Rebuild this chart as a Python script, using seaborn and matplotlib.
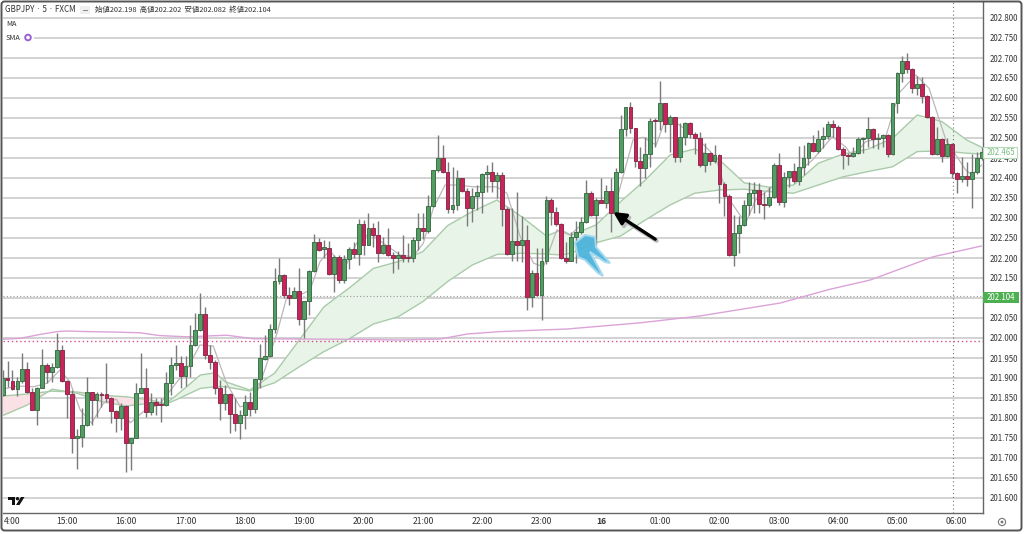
import numpy as np
import pandas as pd
import seaborn as sns
import matplotlib
matplotlib.use('Agg')
import matplotlib.pyplot as plt
from matplotlib.patches import Circle, FancyBboxPatch, Polygon, Rectangle
from matplotlib.transforms import Affine2D

OPENS = [
    201.858, 201.899, 201.893, 201.872, 201.893, 201.923, 201.865, 201.82, 201.876, 201.932,
    201.914, 201.928, 201.969, 201.892, 201.859, 201.749, 201.753, 201.782, 201.866, 201.845,
    201.859, 201.859, 201.85, 201.818, 201.799, 201.831, 201.737, 201.749, 201.863, 201.874,
    201.816, 201.841, 201.833, 201.832, 201.887, 201.932, 201.938, 201.905, 201.93, 201.982,
    202.02, 202.059, 201.958, 201.941, 201.876, 201.837, 201.86, 201.81, 201.788, 201.807,
    201.84, 201.823, 201.897, 201.948, 201.955, 202.023, 202.142, 202.158, 202.108, 202.101,
    202.118, 202.048, 202.092, 202.167, 202.24, 202.222, 202.226, 202.16, 202.202, 202.145,
    202.197, 202.222, 202.21, 202.285, 202.233, 202.274, 202.258, 202.213, 202.232, 202.207,
    202.2, 202.208, 202.201, 202.2, 202.245, 202.274, 202.268, 202.33, 202.42, 202.449,
    202.415, 202.323, 202.332, 202.399, 202.368, 202.325, 202.356, 202.365, 202.409, 202.416,
    202.393, 202.408, 202.323, 202.209, 202.242, 202.233, 202.245, 202.103, 202.162, 202.108,
    202.193, 202.345, 202.315, 202.285, 202.2, 202.193, 202.253, 202.264, 202.29, 202.362,
    202.308, 202.346, 202.338, 202.367, 202.313, 202.414, 202.522, 202.578, 202.524, 202.443,
    202.426, 202.46, 202.543, 202.542, 202.587, 202.535, 202.552, 202.452, 202.502, 202.538,
    202.51, 202.5, 202.432, 202.462, 202.443, 202.457, 202.385, 202.356, 202.207, 202.262,
    202.283, 202.332, 202.362, 202.37, 202.336, 202.333, 202.352, 202.432, 202.341, 202.403,
    202.417, 202.393, 202.428, 202.449, 202.487, 202.467, 202.497, 202.505, 202.535, 202.527,
    202.473, 202.457, 202.455, 202.462, 202.497, 202.499, 202.522, 202.497, 202.501, 202.507,
    202.46, 202.587, 202.662, 202.693, 202.672, 202.624, 202.635, 202.606, 202.553, 202.46,
    202.497, 202.455, 202.486, 202.413, 202.397, 202.405, 202.397, 202.414, 202.449,
]
CLOSES = [
    201.899, 201.894, 201.872, 201.893, 201.923, 201.865, 201.82, 201.876, 201.932, 201.914,
    201.928, 201.969, 201.892, 201.859, 201.749, 201.754, 201.782, 201.866, 201.845, 201.859,
    201.858, 201.85, 201.818, 201.799, 201.831, 201.737, 201.749, 201.863, 201.874, 201.816,
    201.841, 201.833, 201.832, 201.887, 201.932, 201.938, 201.905, 201.93, 201.982, 202.02,
    202.059, 201.958, 201.941, 201.876, 201.837, 201.86, 201.81, 201.788, 201.807, 201.84,
    201.823, 201.897, 201.949, 201.955, 202.023, 202.142, 202.158, 202.108, 202.101, 202.118,
    202.048, 202.092, 202.167, 202.24, 202.22, 202.227, 202.16, 202.202, 202.145, 202.197,
    202.222, 202.21, 202.285, 202.233, 202.274, 202.258, 202.213, 202.232, 202.207, 202.2,
    202.208, 202.201, 202.2, 202.245, 202.274, 202.268, 202.33, 202.42, 202.449, 202.415,
    202.323, 202.332, 202.399, 202.368, 202.325, 202.356, 202.365, 202.409, 202.416, 202.393,
    202.408, 202.323, 202.209, 202.242, 202.233, 202.245, 202.103, 202.162, 202.108, 202.193,
    202.345, 202.315, 202.285, 202.2, 202.193, 202.253, 202.264, 202.29, 202.362, 202.308,
    202.346, 202.338, 202.367, 202.313, 202.414, 202.522, 202.578, 202.524, 202.443, 202.426,
    202.46, 202.543, 202.542, 202.587, 202.535, 202.552, 202.452, 202.502, 202.538, 202.51,
    202.5, 202.432, 202.462, 202.443, 202.457, 202.385, 202.356, 202.207, 202.262, 202.283,
    202.332, 202.362, 202.37, 202.336, 202.333, 202.352, 202.432, 202.341, 202.403, 202.417,
    202.393, 202.428, 202.449, 202.487, 202.467, 202.497, 202.505, 202.535, 202.527, 202.473,
    202.457, 202.456, 202.462, 202.497, 202.499, 202.522, 202.497, 202.501, 202.507, 202.46,
    202.587, 202.662, 202.693, 202.672, 202.624, 202.635, 202.606, 202.553, 202.46, 202.497,
    202.455, 202.486, 202.413, 202.397, 202.405, 202.397, 202.414, 202.449, 202.465,
]
HIGHS = [
    201.92, 201.943, 201.92, 201.903, 201.962, 201.94, 201.874, 201.878, 201.972, 201.937,
    201.937, 202.012, 201.982, 201.895, 201.87, 201.772, 201.824, 201.903, 201.866, 201.866,
    201.866, 201.938, 201.853, 201.82, 201.837, 201.832, 201.749, 201.888, 201.963, 201.924,
    201.863, 201.849, 201.849, 201.916, 201.952, 201.982, 201.955, 201.955, 202.032, 202.063,
    202.113, 202.077, 201.982, 201.945, 201.895, 201.882, 201.862, 201.85, 201.82, 201.858,
    201.866, 201.897, 201.985, 202.008, 202.034, 202.175, 202.2, 202.16, 202.128, 202.128,
    202.175, 202.092, 202.17, 202.26, 202.249, 202.245, 202.243, 202.208, 202.208, 202.208,
    202.228, 202.241, 202.297, 202.295, 202.312, 202.287, 202.293, 202.253, 202.274, 202.216,
    202.218, 202.258, 202.238, 202.253, 202.313, 202.313, 202.358, 202.42, 202.508, 202.483,
    202.441, 202.428, 202.42, 202.4, 202.374, 202.374, 202.383, 202.413, 202.433, 202.441,
    202.416, 202.416, 202.328, 202.324, 202.366, 202.305, 202.283, 202.17, 202.224, 202.224,
    202.355, 202.349, 202.328, 202.287, 202.24, 202.266, 202.293, 202.303, 202.395, 202.368,
    202.349, 202.4, 202.383, 202.4, 202.424, 202.558, 202.578, 202.591, 202.524, 202.478,
    202.502, 202.549, 202.55, 202.643, 202.587, 202.557, 202.553, 202.537, 202.541, 202.541,
    202.516, 202.516, 202.488, 202.466, 202.482, 202.46, 202.39, 202.36, 202.307, 202.305,
    202.345, 202.391, 202.391, 202.387, 202.366, 202.377, 202.438, 202.462, 202.416, 202.418,
    202.437, 202.48, 202.482, 202.491, 202.507, 202.52, 202.528, 202.543, 202.545, 202.532,
    202.478, 202.462, 202.477, 202.503, 202.502, 202.552, 202.524, 202.512, 202.51, 202.51,
    202.587, 202.666, 202.705, 202.712, 202.674, 202.655, 202.652, 202.607, 202.555, 202.527,
    202.499, 202.499, 202.487, 202.416, 202.453, 202.44, 202.46, 202.466, 202.477,
]
LOWS = [
    201.854, 201.878, 201.87, 201.855, 201.887, 201.862, 201.82, 201.782, 201.874, 201.887,
    201.891, 201.924, 201.891, 201.799, 201.713, 201.672, 201.728, 201.78, 201.783, 201.803,
    201.828, 201.841, 201.788, 201.766, 201.77, 201.666, 201.67, 201.749, 201.862, 201.803,
    201.808, 201.808, 201.791, 201.83, 201.857, 201.92, 201.874, 201.88, 201.903, 201.98,
    202.018, 201.947, 201.922, 201.86, 201.795, 201.82, 201.763, 201.768, 201.748, 201.772,
    201.806, 201.812, 201.874, 201.945, 201.952, 202.012, 202.135, 202.1, 202.082, 202.099,
    202.032, 201.999, 202.058, 202.165, 202.218, 202.2, 202.158, 202.116, 202.138, 202.138,
    202.172, 202.2, 202.183, 202.208, 202.232, 202.228, 202.191, 202.211, 202.205, 202.163,
    202.172, 202.191, 202.191, 202.191, 202.22, 202.247, 202.262, 202.328, 202.416, 202.413,
    202.312, 202.312, 202.32, 202.366, 202.28, 202.291, 202.32, 202.312, 202.366, 202.366,
    202.349, 202.28, 202.207, 202.193, 202.193, 202.191, 202.07, 202.078, 202.106, 202.045,
    202.185, 202.283, 202.28, 202.198, 202.188, 202.192, 202.187, 202.26, 202.287, 202.305,
    202.233, 202.337, 202.324, 202.266, 202.31, 202.413, 202.505, 202.512, 202.427, 202.38,
    202.399, 202.427, 202.478, 202.52, 202.516, 202.466, 202.441, 202.441, 202.482, 202.499,
    202.46, 202.428, 202.416, 202.432, 202.438, 202.338, 202.306, 202.206, 202.18, 202.212,
    202.281, 202.308, 202.312, 202.312, 202.297, 202.327, 202.35, 202.333, 202.327, 202.378,
    202.387, 202.382, 202.408, 202.433, 202.466, 202.462, 202.474, 202.497, 202.502, 202.47,
    202.422, 202.433, 202.452, 202.46, 202.462, 202.478, 202.474, 202.473, 202.478, 202.453,
    202.458, 202.562, 202.639, 202.662, 202.612, 202.608, 202.588, 202.549, 202.458, 202.458,
    202.441, 202.453, 202.399, 202.363, 202.391, 202.38, 202.326, 202.411, 202.445,
]

# The two moving averages that bound the shaded cloud
BAND_IDX = [0, 5, 10, 15, 20, 25, 30, 33, 35, 40, 43, 45, 50, 55, 60, 65, 70, 75, 80, 85,
            90, 95, 100, 105, 110, 113, 115, 120, 125, 130, 135, 140, 145, 150, 155, 160,
            165, 170, 175, 180, 185, 190, 195, 198]
BAND_FAST = [201.806, 201.8325, 201.872, 201.862, 201.841, 201.83, 201.837, 201.8367, 201.855,
             201.9075, 201.913, 201.891, 201.87, 201.912, 201.995, 202.078, 202.124, 202.174,
             202.191, 202.216, 202.281, 202.316, 202.345, 202.303, 202.255, 202.27, 202.257,
             202.2825, 202.341, 202.395, 202.4575, 202.4725, 202.445, 202.388, 202.377, 202.3825,
             202.437, 202.46, 202.472, 202.499, 202.5575, 202.541, 202.495, 202.477]
BAND_SLOW = [201.855, 201.86, 201.867, 201.865, 201.857, 201.853, 201.845, 201.835, 201.845,
             201.874, 201.878, 201.878, 201.8675, 201.888, 201.928, 201.966, 201.9975, 202.035,
             202.053, 202.091, 202.141, 202.1825, 202.209, 202.212, 202.21, 202.2075, 202.212,
             202.238, 202.255, 202.295, 202.3325, 202.362, 202.37, 202.372, 202.366, 202.362,
             202.3825, 202.403, 202.416, 202.428, 202.466, 202.468, 202.462, 202.46]

# Short grey MA
SHORT_IDX = [0, 3, 6.2, 9, 11.6, 13.6, 15.7, 18, 20.4, 23, 25.8, 28.5, 31.8, 34.5, 37.2, 39.9,
             42.6, 45.3, 48, 50.7, 52.8, 55.5, 57.5, 60.2, 62.2, 64.2, 66.2, 69, 71.6, 74.3,
             77, 80.4, 83, 85.1, 87.1, 89.5, 91.9, 95.2, 99.9, 102, 104.7, 107.4, 109.4, 112.1,
             114.8, 118.1, 120.8, 124.2, 127.5, 129.5, 132.2, 134.2, 136.9, 140.2, 144.2, 146.6,
             150.3, 152.3, 155.7, 159.8, 163.8, 167.8, 170.5, 171.9, 174.6, 178.6, 181.3, 184.7,
             187.4, 190.8, 194.8, 196.1, 198]
SHORT_MA = [201.872, 201.88, 201.878, 201.887, 201.92, 201.891, 201.82, 201.787, 201.837, 201.847,
            201.788, 201.816, 201.835, 201.878, 201.92, 201.9825, 201.98, 201.887, 201.828, 201.837,
            201.912, 202.012, 202.103, 202.108, 202.12, 202.191, 202.22, 202.17, 202.237, 202.262,
            202.237, 202.2075, 202.203, 202.237, 202.324, 202.3825, 202.3825, 202.378, 202.378, 202.362,
            202.253, 202.187, 202.178, 202.27, 202.2575, 202.295, 202.337, 202.345, 202.495, 202.502,
            202.4825, 202.553, 202.5325, 202.503, 202.453, 202.353, 202.287, 202.345, 202.378, 202.403,
            202.445, 202.503, 202.478, 202.453, 202.491, 202.502, 202.612, 202.6575, 202.624, 202.495,
            202.42, 202.4075, 202.4325]

# Long pink SMA
LONG_IDX = [0, 3.5, 7.6, 11, 13, 17, 22.3, 27.8, 31.8, 37.3, 45.4, 50.7, 68.3, 80.4, 88.5, 94,
            100.6, 114.2, 129, 141, 157.3, 167.4, 175.5, 188.2, 198]
LONG_MA = [201.997, 201.999, 202.009, 202.016, 202.0175, 202.016, 202.015, 202.013, 202.006,
           202.003, 202.007, 201.998, 201.997, 201.995, 201.9975, 202.01, 202.016, 202.0225,
           202.038, 202.055, 202.0875, 202.122, 202.145, 202.203, 202.23]

Y_TICKS = [201.6, 201.65, 201.7, 201.75, 201.8, 201.85, 201.9, 201.95, 202.0, 202.05, 202.1,
           202.15, 202.2, 202.25, 202.3, 202.35, 202.4, 202.45, 202.5, 202.55, 202.6, 202.65,
           202.7, 202.75, 202.8]
X_TICKS = [13, 25, 37, 49, 61, 73, 85, 97, 109, 121, 133, 145, 157, 169, 181, 193]
X_LABELS = ['15:00', '16:00', '17:00', '18:00', '19:00', '20:00', '21:00', '22:00', '23:00',
            '16', '01:00', '02:00', '03:00', '04:00', '05:00', '06:00']

LAST_PRICE = 202.104
MA_LABEL = 202.465
DOTTED_LEVEL = 201.992
CROSSHAIR_IDX = 192.3

GREEN = '#529e62'
GREEN_EDGE = '#3f7049'
RED = '#c9245a'
RED_EDGE = '#8c2f4e'
WICK = '#7a7a7a'
GRID = '#c6c6c6'
TEXT = '#333333'


def draw_candles(ax, candles):
    ax.vlines(candles['idx'], candles['low'], candles['high'], color=WICK, lw=1.0, zorder=4)
    up = candles['close'] >= candles['open']
    bottoms = candles[['open', 'close']].min(axis=1)
    heights = (candles['close'] - candles['open']).abs().clip(lower=0.002)
    ax.bar(candles['idx'][up], heights[up], bottom=bottoms[up], width=0.78,
           color=GREEN, edgecolor=GREEN_EDGE, linewidth=0.7, zorder=5)
    ax.bar(candles['idx'][~up], heights[~up], bottom=bottoms[~up], width=0.78,
           color=RED, edgecolor=RED_EDGE, linewidth=0.7, zorder=5)


def draw_moving_averages(ax):
    fast = np.array(BAND_FAST)
    slow = np.array(BAND_SLOW)
    ax.fill_between(BAND_IDX, fast, slow, where=fast >= slow, interpolate=True,
                    color='#e8f4e8', lw=0, zorder=1.5)
    ax.fill_between(BAND_IDX, fast, slow, where=fast < slow, interpolate=True,
                    color='#f9e1e6', lw=0, zorder=1.5)
    sns.lineplot(x=BAND_IDX, y=BAND_FAST, ax=ax, color='#a9cbaa', lw=1.0, zorder=2)
    sns.lineplot(x=BAND_IDX, y=BAND_SLOW, ax=ax, color='#a9cbaa', lw=1.0, zorder=2)
    sns.lineplot(x=SHORT_IDX, y=SHORT_MA, ax=ax, color='#bdb6b8', lw=0.9, zorder=3)
    sns.lineplot(x=LONG_IDX, y=LONG_MA, ax=ax, color='#dba3d8', lw=1.0, zorder=3)


def draw_overlays(fig, ax, px):
    # Blue hand drawn arrow and the black one next to it
    blue = [(575, 243), (585, 235), (595, 237), (596, 247), (610, 263), (605, 262), (593, 254),
            (590, 252), (603, 276), (598, 273), (585, 260), (578, 257)]
    fig.add_artist(Polygon(blue, closed=True, transform=px, facecolor='#4db3dc',
                           edgecolor='#a5d9ee', lw=1.5, alpha=0.95, zorder=8))
    ax.annotate('', xy=(123.7, 202.31), xytext=(132.3, 202.243), zorder=9,
                arrowprops=dict(arrowstyle='-|>,head_width=0.3,head_length=0.6', color='#bbbbbb', lw=3,
                                shrinkA=0, shrinkB=0))
    ax.annotate('', xy=(123.5, 202.315), xytext=(132, 202.247), zorder=9,
                arrowprops=dict(arrowstyle='-|>,head_width=0.3,head_length=0.6', color='black', lw=2.4,
                                shrinkA=0, shrinkB=0))


def draw_texts(fig, px):
    kw = dict(transform=px, va='center', ha='left', color=TEXT)
    fig.text(5, 10, 'GBPJPY · 5 · FXCM', fontsize=5.8, zorder=10, **kw)
    fig.add_artist(Rectangle((80, 6), 10, 8, transform=px, fc='#efefef', ec='none', zorder=9))
    fig.add_artist(Rectangle((82.5, 9.5), 5, 1, transform=px, fc='#888888', ec='none', zorder=10))
    fig.text(95, 10, '始値202.198  高値202.202  安値202.082  終値202.104', fontsize=5.3, zorder=10, **kw)
    fig.text(6, 24, 'MA', fontsize=5.3, zorder=10, **kw)
    fig.add_artist(Rectangle((3, 32), 31, 11, transform=px, fc='white', ec='none', zorder=9))
    fig.text(6, 37.5, 'SMA', fontsize=5.3, zorder=10, **kw)
    fig.add_artist(Circle((28, 37.5), 2.8, transform=px, fc='white', ec='#9a5fd0', lw=1.4, zorder=10))

    # Last price tags on the price scale
    fig.add_artist(Rectangle((983, 147), 34, 11, transform=px, fc='white', ec='#b5dbb7', lw=0.8, zorder=9))
    fig.text(1001, 152.5, f'{MA_LABEL:.3f}', transform=px, fontsize=5.7, va='center', ha='center',
             color='#7dbb82', zorder=10)
    fig.add_artist(Rectangle((983, 292), 36, 10.5, transform=px, fc='#4caf50', ec='none', zorder=9))
    fig.text(1001, 297, f'{LAST_PRICE:.3f}', transform=px, fontsize=5.7, va='center', ha='center',
             color='white', zorder=10)

    fig.text(3.5, 522, '4:00', fontsize=6.2, zorder=10, **kw)
    fig.add_artist(Circle((1002, 522), 3.6, transform=px, fc='white', ec='#777777', lw=0.8, zorder=10))
    fig.add_artist(Circle((1002, 522), 1.4, transform=px, fc='#777777', ec='none', zorder=10))

    # TradingView mark
    fig.add_artist(Polygon([(8, 497), (15, 497), (15, 505), (12, 505), (12, 500), (8, 500)],
                           transform=px, fc='#111111', ec='none', zorder=10))
    fig.add_artist(Circle((17.5, 498.7), 1.7, transform=px, fc='#111111', ec='none', zorder=10))
    fig.add_artist(Polygon([(21, 497), (24.5, 497), (19.5, 505), (16, 505)],
                           transform=px, fc='#111111', ec='none', zorder=10))


def main():
    sns.set_theme(style='white')
    plt.rcParams['font.family'] = ['Noto Sans CJK JP', 'DejaVu Sans']

    candles = pd.DataFrame({'open': OPENS, 'high': HIGHS, 'low': LOWS, 'close': CLOSES})
    candles['idx'] = candles.index

    fig = plt.figure(figsize=(10.24, 5.34), dpi=100, facecolor='white')
    # Top-down pixel coordinates for labels sitting on top of the chart
    px = Affine2D().scale(1 / 1024, -1 / 534).translate(0, 1) + fig.transFigure

    ax = fig.add_axes([3 / 1024, 21 / 534, 980 / 1024, 511 / 534])
    ax.set_xlim(0.08, 198.3)
    ax.set_ylim(201.5625, 202.84)

    ax.hlines(Y_TICKS, 0.08, 198.3, color=GRID, lw=1.1, zorder=1)
    ax.axhline(LAST_PRICE, color='#9a9a9a', lw=0.8, ls=(0, (1, 2)), zorder=2)
    ax.axhline(DOTTED_LEVEL, color='#d64f8c', lw=1.0, ls=(0, (1, 2)), zorder=2)
    ax.axvline(CROSSHAIR_IDX, color='#777777', lw=0.8, ls=(0, (1, 2.5)), zorder=6)

    draw_moving_averages(ax)
    draw_candles(ax, candles)

    # The 202.100 label sits under the last price tag, so it stays blank
    ax.yaxis.tick_right()
    ax.set_yticks(Y_TICKS)
    ax.set_yticklabels(['' if v == 202.1 else f'{v:.3f}' for v in Y_TICKS], fontsize=5.7, color=TEXT)
    ax.set_xticks(X_TICKS)
    ax.set_xticklabels(X_LABELS, fontsize=6.2, color=TEXT)
    ax.get_xticklabels()[X_LABELS.index('16')].set_fontweight('bold')
    ax.tick_params(axis='x', length=0, pad=3)
    ax.tick_params(axis='y', length=0, pad=5)
    ax.set_xlabel('')
    ax.set_ylabel('')
    for side in ['left', 'top']:
        ax.spines[side].set_visible(False)
    for side in ['right', 'bottom']:
        ax.spines[side].set_color('#666666')
        ax.spines[side].set_linewidth(1.0)

    draw_overlays(fig, ax, px)
    draw_texts(fig, px)

    # Outer screenshot frame
    fig.add_artist(FancyBboxPatch((1.5, 1.5), 1020, 529, boxstyle='round,pad=0,rounding_size=3',
                                  transform=px, fc='none', ec='#555555', lw=1.4, zorder=11))

    fig.savefig('out.png', dpi=100)


if __name__ == '__main__':
    main()
